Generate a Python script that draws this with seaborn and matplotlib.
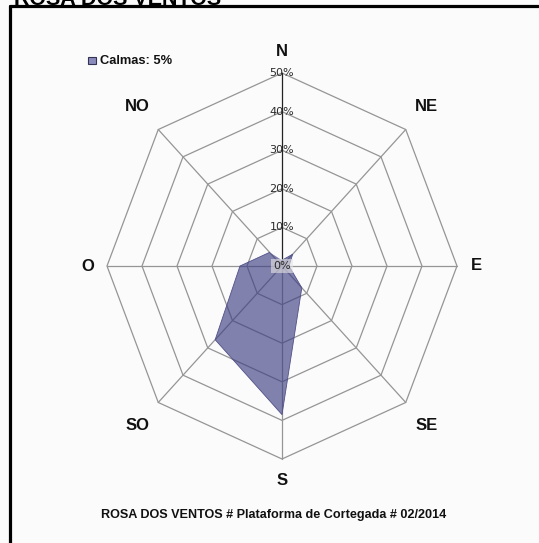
import numpy as np
import pandas as pd
import matplotlib
matplotlib.use('Agg')
import matplotlib.pyplot as plt
from matplotlib.lines import Line2D
import seaborn as sns

# rosa dos ventos - frequencia por direcao (%)
direcoes = ['N', 'NE', 'E', 'SE', 'S', 'SO', 'O', 'NO']
frequencia = [1.5, 4.3, 2.0, 8.0, 38.5, 27.0, 12.0, 5.0]
aneis = [10, 20, 30, 40, 50]
aneis_labels = ['10%', '20%', '30%', '40%', '50%']
calmas = 5
titulo = 'ROSA DOS VENTOS'
rodape = 'ROSA DOS VENTOS # Plataforma de Cortegada # 02/2014'

sns.set_theme(style='white')
plt.rcParams['font.family'] = ['Liberation Sans', 'DejaVu Sans']

fundo = '#fbfbfb'
cor = '#3c3c82'

ang = np.deg2rad(np.arange(len(direcoes)) * 45)

df = pd.DataFrame({'dir': direcoes, 'freq': frequencia, 'ang': ang})
df['x'] = df['freq'] * np.sin(df['ang'])
df['y'] = df['freq'] * np.cos(df['ang'])

fig = plt.figure(figsize=(5.39, 5.43), dpi=100, facecolor=fundo)
ax = fig.add_axes([0, 0, 1, 1])
ax.set_facecolor(fundo)
# escala: 50% -> 175 px na horizontal, 193 px na vertical
ax.set_xlim(-282 * 50 / 175, (539 - 282) * 50 / 175)
ax.set_ylim(-(543 - 266) * 50 / 193, 266 * 50 / 193)
ax.axis('off')

# grelha octogonal
angc = np.append(ang, ang[0])
for r in aneis:
    ax.plot(r * np.sin(angc), r * np.cos(angc), color='#959595', lw=0.9, zorder=1)
for i, a in enumerate(ang):
    c = '#222222' if i == 0 else '#959595'
    ax.plot([0, 50 * np.sin(a)], [0, 50 * np.cos(a)], color=c, lw=0.9, zorder=1)

# poligono dos dados
poly = pd.concat([df, df.iloc[[0]]])
ax.fill(poly['x'], poly['y'], color=cor, alpha=0.64, lw=0, zorder=2)
sns.lineplot(data=poly, x='x', y='y', sort=False, color='#505088', lw=0.6,
             ax=ax, zorder=3, legend=False)

# rotulos dos aneis
ax.text(0, 0, '0%', ha='center', va='center', fontsize=8, color='#2a2a2a',
        family='DejaVu Sans', zorder=4,
        bbox=dict(boxstyle='square,pad=0.2', fc='#e4e4e4', ec='none', alpha=0.6))
for r, lab in zip(aneis, aneis_labels):
    ax.text(0, r, lab, ha='center', va='center', fontsize=8, color='#2a2a2a',
            family='DejaVu Sans', zorder=4)

# rotulos das direcoes
for i, (d, a) in enumerate(zip(direcoes, ang)):
    k = 55.5 if i % 2 == 0 else 58.5
    ax.text(k * np.sin(a), k * np.cos(a), d, ha='center', va='center',
            fontsize=12, fontweight='bold', color='#111111')

# legenda
fig.patches.append(plt.Rectangle((88 / 539, 1 - 64 / 543), 8 / 539, 7 / 543,
                                 transform=fig.transFigure, fc='#8c8cbc',
                                 ec='#333355', lw=0.8))
fig.text(100 / 539, 1 - 61 / 543, f'Calmas: {calmas}%', ha='left', va='center',
         fontsize=9.3, fontweight='bold', color='#111111')

# rodape
fig.text(274 / 539, 1 - 515 / 543, rodape, ha='center', va='center',
         fontsize=9.1, fontweight='bold', color='#111111')

# titulo cortado e moldura
fig.text(14 / 539, 1 - 5 / 543, titulo, ha='left', va='baseline',
         fontsize=15.5, fontweight='bold', color='black')
fig.add_artist(Line2D([9.5 / 539, 1.01], [1 - 6 / 543, 1 - 6 / 543],
                      transform=fig.transFigure, color='black', lw=2.3))
fig.add_artist(Line2D([9.5 / 539, 9.5 / 539], [1 - 6 / 543, -0.01],
                      transform=fig.transFigure, color='black', lw=2.3))

fig.savefig('out.png', dpi=100, facecolor=fundo)
